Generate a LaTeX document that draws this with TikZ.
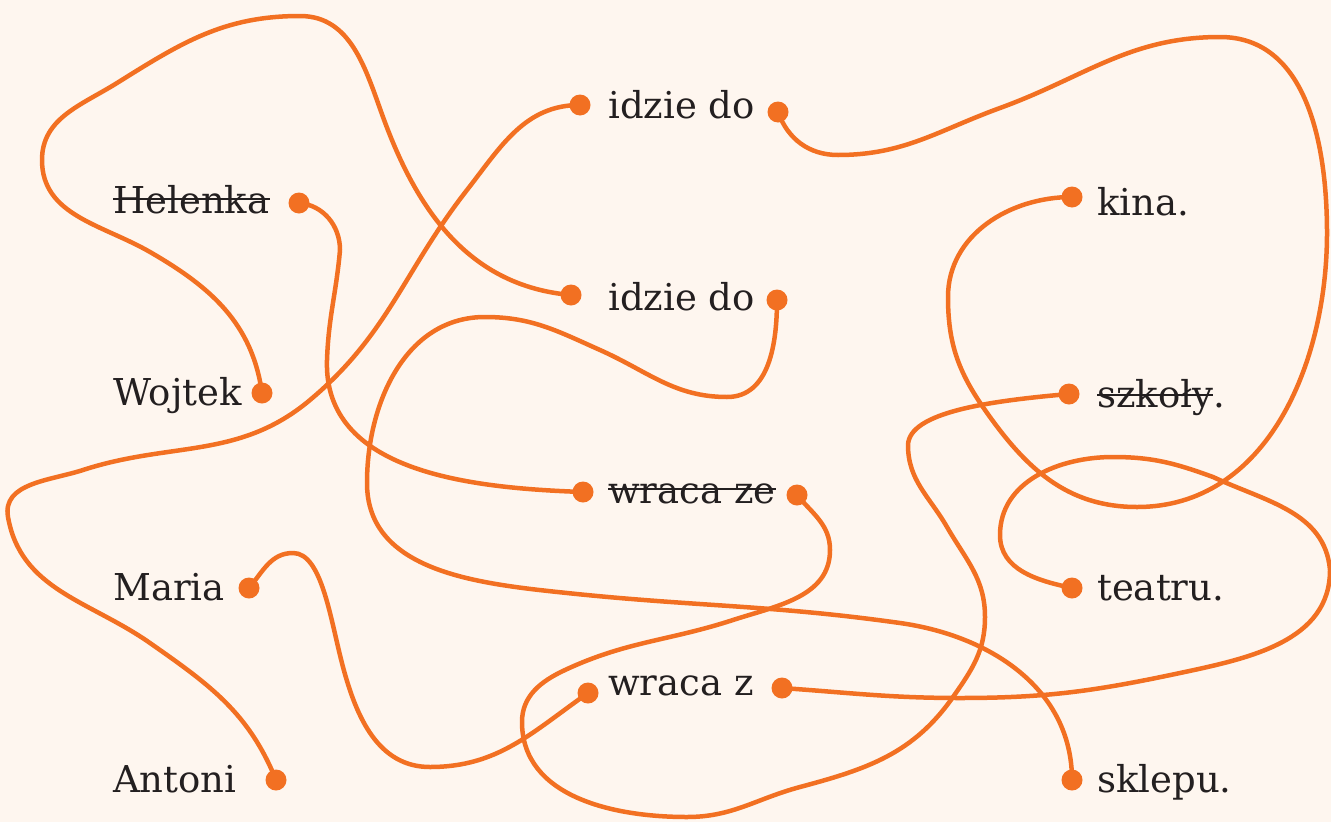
\documentclass[tikz,border=0pt]{standalone}
\usepackage{fontspec}
\setmainfont{DejaVu Serif}
\definecolor{bg}{HTML}{FEF6EF}
\definecolor{org}{HTML}{F27022}
\definecolor{ink}{HTML}{231F20}
\tikzset{
  wire/.style={draw=org, line width=4.5pt, line cap=round, line join=round},
  dotnode/.style={circle, fill=org, inner sep=0pt, minimum size=21pt},
  lbl/.style={anchor=base west, inner sep=0pt, text=ink, font=\fontsize{37}{44}\selectfont},
  strike/.style={draw=ink, line width=1.5pt},
}
\begin{document}
\begin{tikzpicture}[x=1pt,y=-1pt]
\fill[bg] (0,0) rectangle (1331,822);
\useasboundingbox (0,0) rectangle (1331,822);

% labels
\node[lbl] (tHel) at (113,213) {Helenka};
\node[lbl] (tWoj) at (113,405) {Wojtek};
\node[lbl] (tMar) at (113,600) {Maria};
\node[lbl] (tAnt) at (113,792) {Antoni};
\node[lbl] (tI1) at (608,118) {idzie do};
\node[lbl] (tI2) at (608,310) {idzie do};
\node[lbl] (tWze) at (608,503) {wraca ze};
\node[lbl] (tWz) at (608,695) {wraca z};
\node[lbl] (tKin) at (1097,215) {kina.};
\node[lbl] (tSzk) at (1097,407) {szkoły};
\node[lbl] (tSzkP) at (tSzk.base east) {.};
\node[lbl] (tTea) at (1097,600) {teatru.};
\node[lbl] (tSkl) at (1097,792) {sklepu.};

% strike-throughs
\draw[strike] ([yshift=14pt]tHel.base west) -- ([yshift=14pt]tHel.base east);
\draw[strike] ([yshift=14pt]tWze.base west) -- ([yshift=14pt]tWze.base east);
\draw[strike] ([yshift=12pt]tSzk.base west) -- ([yshift=12pt]tSzk.base east);

% dots
\node[dotnode] (hel) at (299,203) {};
\node[dotnode] (woj) at (262,393) {};
\node[dotnode] (mar) at (249,588) {};
\node[dotnode] (ant) at (276,780) {};
\node[dotnode] (i1l) at (580,105) {};
\node[dotnode] (i1r) at (778,112) {};
\node[dotnode] (i2l) at (571,295) {};
\node[dotnode] (i2r) at (777,300) {};
\node[dotnode] (wzel) at (583,492) {};
\node[dotnode] (wzer) at (797,495) {};
\node[dotnode] (wzl) at (588,693) {};
\node[dotnode] (wzr) at (782,688) {};
\node[dotnode] (kin) at (1072,197) {};
\node[dotnode] (szk) at (1069,394) {};
\node[dotnode] (tea) at (1072,588) {};
\node[dotnode] (skl) at (1072,780) {};

% connectors
% Wojtek -> idzie do (2)
\draw[wire] (woj.center) to[out=98,in=-30] (150,252) to[out=150,in=-90] (42,160)
  to[out=90,in=-148] (117,83) to[out=32,in=180] (300,16) to[out=0,in=110] (383,117)
  to[out=-70,in=175] (i2l.center);
% Helenka -> wraca ze
\draw[wire] (hel.center) to[out=-5,in=90] (340,250) to[out=-95,in=88] (327,360)
  to[out=-92,in=178] (wzel.center);
% Antoni -> idzie do (1)
\draw[wire] (ant.center) to[out=112,in=-35] (150,643) to[out=145,in=-80] (8,517)
  to[out=100,in=-162] (83,470) to[out=18,in=-140] (310,400) to[out=40,in=-128] (467,190)
  to[out=52,in=180] (i1l.center);
% Maria -> wraca z
\draw[wire] (mar.center) to[out=50,in=180] (293,553)
  to[out=0,in=105,out looseness=0.6,in looseness=1] (343,667)
  to[out=-75,in=180] (430,767) to[out=0,in=-145] (wzl.center);
% idzie do (1) -> kina.
\draw[wire] (i1r.center) to[out=-70,in=180] (838,155) to[out=0,in=-160] (1000,108)
  to[out=20,in=180] (1220,37) to[out=0,in=90] (1327,233) to[out=-90,in=0] (1137,507)
  to[out=180,in=-55] (985,410) to[out=125,in=-90] (948,297) to[out=90,in=180] (kin.center);
% idzie do (2) -> sklepu.
\draw[wire] (i2r.center) to[out=-90,in=0] (727,397) to[out=180,in=-24] (600,350)
  to[out=156,in=0] (485,317) to[out=180,in=90] (367,483) to[out=-90,in=174] (567,593)
  to[out=-6,in=172] (900,623) to[out=-8,in=90] (skl.center);
% wraca ze -> szkoly.
\draw[wire] (wzer.center) to[out=-50,in=90] (830,550) to[out=-90,in=18] (733,620)
  to[out=-162,in=25] (565,670) to[out=-155,in=90] (522,722) to[out=-90,in=180] (687,817)
  to[out=0,in=-165] (800,787) to[out=15,in=-125] (953,697) to[out=55,in=-90] (985,617)
  to[out=90,in=-60] (947,527) to[out=120,in=-90] (908,445)
  to[out=88,in=-175,out looseness=0.5,in looseness=1.2] (szk.center);
% wraca z -> teatru.
\draw[wire] (wzr.center) to[out=-4,in=180] (960,698) to[out=0,in=-168] (1180,673)
  to[out=12,in=-90] (1330,570) to[out=95,in=-25] (1213,477) to[out=160,in=0] (1113,457)
  to[out=180,in=90] (1000,535) to[out=-90,in=168] (tea.center);
\end{tikzpicture}
\end{document}
